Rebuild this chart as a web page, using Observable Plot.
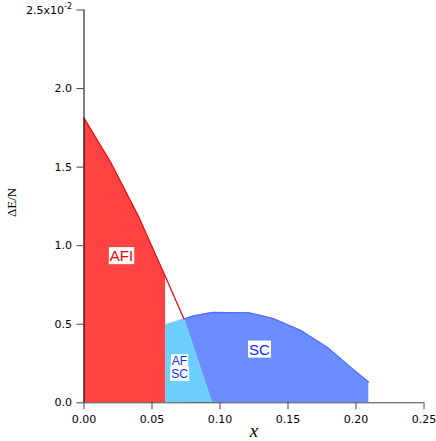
<!DOCTYPE html>
<html><head><meta charset="utf-8">
<script src="https://cdn.jsdelivr.net/npm/d3@7"></script>
<script src="https://cdn.jsdelivr.net/npm/@observablehq/plot@0.6"></script>
<style>
body{margin:0;background:#fff;}
</style>
</head><body><div id="chart"></div>
<script>
// AFI boundary line (x, ΔE/N)
const afiLineX = [0, 0.0196, 0.0404, 0.060, 0.0735];
const afiLineY = [0.01813, 0.01531, 0.01180, 0.00800, 0.00533];
// AFI filled region ends at x = 0.06
const afiFillCount = 4;
// AF+SC coexistence region top
const afscX = [0.060, 0.0735, 0.094];
const afscY = [0.00497, 0.00533, 0];
// SC region top
const scX = [0.0735, 0.0809, 0.0944, 0.1212, 0.1298, 0.1396, 0.1592, 0.1788, 0.1960, 0.2094];
const scY = [0.00533, 0.00554, 0.00575, 0.00573, 0.00556, 0.00535, 0.00461, 0.00354, 0.00227, 0.00131];
// labels
const labelText = ["AFI", "AF\nSC", "SC"];
const labelX = [0.0276, 0.0702, 0.129];
const labelY = [0.00932, 0.00225, 0.00339];
// ticks
const xTicks = [0, 0.05, 0.10, 0.15, 0.20, 0.25];
const xTickLabels = ["0.00", "0.05", "0.10", "0.15", "0.20", "0.25"];
const yTicks = [0, 0.005, 0.010, 0.015, 0.020, 0.025];
const yTickLabels = ["0.0", "0.5", "1.0", "1.5", "2.0", "2.5x10"];

const afiLine = afiLineX.map((x, i) => ({x, y: afiLineY[i]}));
const afiFill = afiLine.slice(0, afiFillCount);
const afsc = afscX.map((x, i) => ({x, y: afscY[i]}));
const sc = scX.map((x, i) => ({x, y: scY[i]}));
const afscEdge = afsc.slice(1);
const labels = labelText.map((t, i) => ({t, x: labelX[i], y: labelY[i]}));

const plot = Plot.plot({
  width: 436, height: 441,
  marginLeft: 83.5, marginRight: 12.5, marginTop: 9.5, marginBottom: 38.7,
  x: {domain: [0, 0.25]},
  y: {domain: [0, 0.025]},
  style: {fontFamily: "DejaVu Sans", fontSize: "11px", background: "#fff", color: "#000"},
  marks: [
    Plot.areaY(sc, {x: "x", y: "y", fill: "#6b8dff", curve: "linear"}),
    Plot.line(sc, {x: "x", y: "y", stroke: "#4f6cff", strokeWidth: 1.2}),
    Plot.areaY(afsc, {x: "x", y: "y", fill: "#6ccfff"}),
    Plot.line(afscEdge, {x: "x", y: "y", stroke: "#86dcff", strokeWidth: 1}),
    Plot.areaY(afiFill, {x: "x", y: "y", fill: "#ff4343"}),
    Plot.line(afiLine, {x: "x", y: "y", stroke: "#ee0000", strokeWidth: 1.2}),
    Plot.text(labels.slice(0, 1), {x: "x", y: "y", text: "t", fill: "#ee0000", fontFamily: "Liberation Sans", fontSize: 15}),
    Plot.text(labels.slice(1), {x: "x", y: "y", text: "t", fill: "#0a2cff", fontFamily: "Liberation Sans", fontSize: (d) => d.t === "SC" ? 15 : 12, lineHeight: 1.05}),
    Plot.ruleX([0], {stroke: "#000"}),
    Plot.ruleY([0], {stroke: "#444"}),
    Plot.axisX({ticks: xTicks, tickFormat: (d) => xTickLabels[xTicks.indexOf(d)], tickSize: 7, tickPadding: 5, stroke: "#444", label: null}),
    Plot.axisY({ticks: yTicks, tickFormat: (d) => yTickLabels[yTicks.indexOf(d)], tickSize: 7, tickPadding: 5, stroke: "#444", label: null}),
    Plot.text(["ΔE/N"], {frameAnchor: "left", textAnchor: "middle", rotate: -90, dx: -72, dy: -4, fontFamily: "Liberation Serif", fontSize: 13}),
    Plot.text(["x"], {frameAnchor: "bottom", dy: 34, fontStyle: "italic", fontFamily: "Liberation Serif", fontSize: 19})
  ]
});
document.getElementById("chart").appendChild(plot);

// superscript exponent on the top tick label
plot.querySelectorAll("text").forEach(t => {
  if (t.textContent === "2.5x10") {
    const ts = document.createElementNS("http://www.w3.org/2000/svg", "tspan");
    ts.setAttribute("dy", "-0.55em");
    ts.setAttribute("font-size", "8px");
    ts.textContent = "-2";
    t.appendChild(ts);
  }
});

// white boxes behind the region labels
plot.querySelectorAll('g[aria-label="text"]').forEach(g => {
  g.querySelectorAll("text").forEach(t => {
    if (!labelText.includes(t.textContent) && !labelText.map(s => s.replace("\n", "")).includes(t.textContent)) return;
    const parts = t.querySelectorAll("tspan");
    const items = parts.length ? Array.from(parts) : [t];
    items.forEach(el => {
      const b = el.getBBox();
      const r = document.createElementNS("http://www.w3.org/2000/svg", "rect");
      r.setAttribute("x", b.x - 1);
      r.setAttribute("y", b.y);
      r.setAttribute("width", b.width + 2);
      r.setAttribute("height", b.height);
      r.setAttribute("fill", "#fff");
      const tr = t.getAttribute("transform");
      if (tr) r.setAttribute("transform", tr);
      t.parentNode.insertBefore(r, t);
    });
  });
});
</script>
</body></html>
